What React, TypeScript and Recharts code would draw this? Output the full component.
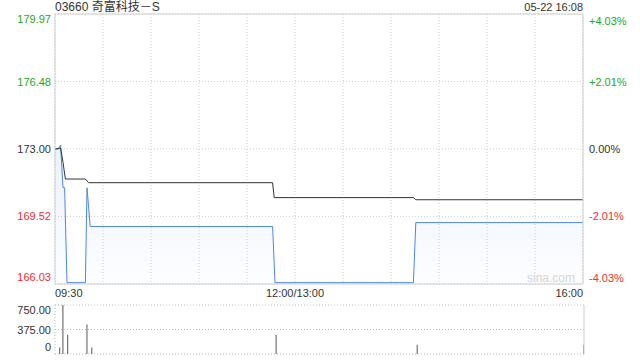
import React from 'react';
import {
  ComposedChart,
  BarChart,
  Area,
  Line,
  Bar,
  XAxis,
  YAxis,
  CartesianGrid,
  ReferenceLine,
} from 'recharts';

// intraday minute chart, 09:30 -> 16:00 (lunch break squeezed out), minutes from open
const title = '03660 奇富科技－S';
const stamp = '05-22 16:08';
const prevClose = 173.0;

const priceTicks = [166.03, 169.52, 173.0, 176.48, 179.97];
const timeTicks = [0, 30, 60, 90, 120, 150, 180, 210, 240, 270, 300, 330];
const timeLabels: Record<number, string> = { 0: '09:30', 150: '12:00/13:00', 330: '16:00' };

const priceMinutes = [0, 2, 3.5, 5, 6, 7.5, 19, 20, 22, 136, 137.5, 224, 225.5, 330];
const priceValues = [173.0, 173.0, 173.2, 171.0, 171.0, 166.1, 166.1, 171.0, 169.0, 169.0, 166.1, 166.1, 169.2, 169.2];

const avgMinutes = [0, 3.5, 5, 6.5, 19, 21, 136, 137, 224, 225.5, 330];
const avgValues = [173.0, 173.05, 172.3, 171.45, 171.45, 171.26, 171.26, 170.49, 170.49, 170.38, 170.38];

const volMinutes = [3, 5, 8, 20, 23, 138, 226, 330];
const volValues = [100, 750, 295, 450, 100, 295, 140, 140];
const volTicks = [0, 375, 750];

const priceData = priceMinutes.map((t, i) => ({ t, p: priceValues[i] }));
const avgData = avgMinutes.map((t, i) => ({ t, a: avgValues[i] }));
const volData = volMinutes.map((t, i) => ({ t, v: volValues[i] }));

const FONT = '"Liberation Sans", Arial, "Noto Sans CJK SC", sans-serif';
const GREEN = '#22a822';
const RED = '#f03030';
const DARK = '#333';
const GRID = '#cfcfcf';

const colorFor = (v: number) => (v > prevClose + 0.001 ? GREEN : v < prevClose - 0.001 ? RED : DARK);
const pct = (v: number) => {
  const p = ((v - prevClose) / prevClose) * 100;
  const s = Math.abs(p).toFixed(2) + '%';
  return p > 0.001 ? '+' + s : p < -0.001 ? '-' + s : '0.00%';
};

// y tick that keeps the top/bottom labels inside the frame
function yTick(min: number, max: number, side: 'left' | 'right', fmt: (v: number) => string, colored: boolean) {
  return (props: any) => {
    const { x, y, payload } = props;
    const v = payload.value;
    let dy = 4;
    if (Math.abs(v - max) < 0.001) dy = side === 'left' ? 9 : 11;
    if (Math.abs(v - min) < 0.001) dy = side === 'left' ? -3 : -2;
    return (
      <text
        x={x}
        y={y + dy}
        textAnchor={side === 'left' ? 'end' : 'start'}
        fill={colored ? colorFor(v) : DARK}
        fontSize={11}
        fontFamily={FONT}
      >
        {fmt(v)}
      </text>
    );
  };
}

const TimeTick = (props: any) => {
  const { x, y, payload } = props;
  const label = timeLabels[payload.value];
  if (!label) return null;
  const anchor = payload.value === 0 ? 'start' : payload.value === 330 ? 'end' : 'middle';
  return (
    <text x={x} y={y} dy="0.71em" textAnchor={anchor} fill={DARK} fontSize={11} fontFamily={FONT}>
      {label}
    </text>
  );
};

export default function App() {
  return (
    <div style={{ position: 'absolute', left: 0, top: 0, width: 640, height: 360, background: '#fff', fontFamily: FONT }}>
      <div style={{ position: 'absolute', left: 55, top: 0, fontSize: 12, color: DARK, lineHeight: '15px' }}>{title}</div>
      <div style={{ position: 'absolute', right: 57, top: 0, fontSize: 11, color: DARK, lineHeight: '15px' }}>{stamp}</div>

      <div style={{ position: 'absolute', left: 0, top: 0 }}>
        <ComposedChart width={640} height={304} margin={{ top: 14, right: 0, left: 0, bottom: 0 }}>
          <defs>
            <linearGradient id="priceFill" x1="0" y1="0" x2="0" y2="1">
              <stop offset="0%" stopColor="#5a8ee6" stopOpacity={0.2} />
              <stop offset="100%" stopColor="#5a8ee6" stopOpacity={0.02} />
            </linearGradient>
          </defs>
          <CartesianGrid stroke={GRID} strokeDasharray="1 2" />
          <XAxis
            dataKey="t"
            type="number"
            domain={[0, 330]}
            ticks={timeTicks}
            interval={0}
            allowDataOverflow
            height={20}
            tickLine={false}
            tickSize={0}
            tickMargin={5}
            axisLine={{ stroke: GRID }}
            tick={TimeTick}
          />
          <YAxis
            type="number"
            domain={[166.03, 179.97]}
            ticks={priceTicks}
            interval={0}
            allowDataOverflow
            width={55}
            tickLine={false}
            tickSize={0}
            tickMargin={4}
            axisLine={{ stroke: GRID }}
            tick={yTick(166.03, 179.97, 'left', (v) => v.toFixed(2), true)}
          />
          <YAxis
            yAxisId="r"
            orientation="right"
            type="number"
            domain={[166.03, 179.97]}
            ticks={priceTicks}
            interval={0}
            allowDataOverflow
            width={57}
            tickLine={false}
            tickSize={0}
            tickMargin={6}
            axisLine={{ stroke: GRID }}
            tick={yTick(166.03, 179.97, 'right', pct, true)}
          />
          <ReferenceLine y={179.97} stroke={GRID} />
          <Area
            data={priceData}
            dataKey="p"
            type="linear"
            stroke="#4f86e3"
            strokeWidth={1}
            fill="url(#priceFill)"
            dot={false}
            activeDot={false}
            isAnimationActive={false}
          />
          <Line
            data={avgData}
            yAxisId="r"
            dataKey="a"
            type="linear"
            stroke="#333"
            strokeWidth={1}
            dot={false}
            activeDot={false}
            isAnimationActive={false}
          />
        </ComposedChart>
      </div>

      <div style={{ position: 'absolute', left: 527, top: 271, fontSize: 12, color: '#d4d4d4' }}>sina.com</div>

      <div style={{ position: 'absolute', left: 0, top: 300 }}>
        <BarChart width={640} height={60} data={volData} margin={{ top: 5, right: 56, left: 0, bottom: 6 }}>
          <CartesianGrid stroke="#bbb" strokeDasharray="1 2" vertical={false} />
          <XAxis dataKey="t" type="number" domain={[0, 330]} allowDataOverflow hide />
          <YAxis
            type="number"
            domain={[0, 750]}
            ticks={volTicks}
            interval={0}
            allowDataOverflow
            width={55}
            tickLine={false}
            tickSize={0}
            tickMargin={4}
            axisLine={false}
            tick={yTick(0, 750, 'left', (v) => (v === 0 ? '0' : v.toFixed(2)), false)}
          />
          <ReferenceLine x={0} stroke="#bbb" strokeDasharray="1 2" />
          <ReferenceLine x={330} stroke={GRID} />
          <Bar dataKey="v" fill="#555" barSize={1} isAnimationActive={false} />
        </BarChart>
      </div>
    </div>
  );
}
